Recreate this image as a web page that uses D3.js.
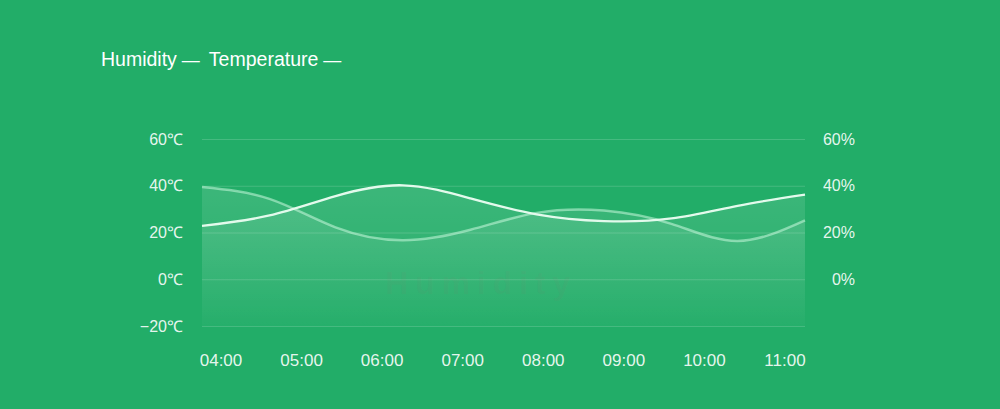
<!DOCTYPE html>
<html>
<head>
<meta charset="utf-8">
<script src="https://cdn.jsdelivr.net/npm/d3@7/dist/d3.min.js"></script>
<style>
  html, body { margin: 0; padding: 0; background: #22ad68; }
  svg { display: block; }
  text { font-family: "Liberation Sans", Arial, sans-serif; }
</style>
</head>
<body>
<svg id="chart" width="1000" height="409"></svg>
<script>
// reading times
const times = ["04:00", "04:47", "05:33", "06:20", "07:07", "07:53", "08:40", "09:27", "10:13", "11:00"];
const temperature = [22.8, 27.3, 35.6, 40.2, 34.6, 27.8, 24.9, 26, 31.4, 36.2];
const humidity = [39.5, 34.4, 22.2, 16.7, 21.2, 28.4, 29.4, 23.7, 16.4, 25.2];
const hourTicks = ["04:00", "05:00", "06:00", "07:00", "08:00", "09:00", "10:00", "11:00"];
const tempTicks = [-20, 0, 20, 40, 60];
const humTicks = [0, 20, 40, 60];
const legendItems = ["Humidity", "Temperature"];

const W = 1000, H = 409;
const plot = { left: 202, right: 805, top: 139, bottom: 326 };
const parse = d3.timeParse("%H:%M");

const svg = d3.select("#chart");
svg.append("rect").attr("width", W).attr("height", H).attr("fill", "#22ad68");

const defs = svg.append("defs");
const grad = defs.append("linearGradient")
  .attr("id", "areaGrad").attr("gradientUnits", "userSpaceOnUse")
  .attr("x1", 0).attr("x2", 0).attr("y1", 185).attr("y2", plot.bottom);
grad.append("stop").attr("offset", 0).attr("stop-color", "#ffffff").attr("stop-opacity", 0.12);
grad.append("stop").attr("offset", 1).attr("stop-color", "#ffffff").attr("stop-opacity", 0.01);

const x = d3.scaleTime().domain([parse(times[0]), parse(times[times.length - 1])]).range([plot.left, plot.right]);
const yT = d3.scaleLinear().domain([-20, 60]).range([plot.bottom, plot.top]);
const yH = d3.scaleLinear().domain([-20, 60]).range([plot.bottom, plot.top]);

// grid
svg.append("g").selectAll("line").data(tempTicks).join("line")
  .attr("x1", plot.left).attr("x2", plot.right)
  .attr("y1", d => yT(d) + 0.5).attr("y2", d => yT(d) + 0.5)
  .attr("stroke", "rgba(255,255,255,0.16)").attr("stroke-width", 1);

// watermark
svg.append("text").text("Humidity")
  .attr("x", 385).attr("y", 294)
  .attr("textLength", 185).attr("lengthAdjust", "spacing")
  .attr("font-size", 32).attr("font-weight", "bold")
  .attr("fill", "rgba(140,100,100,0.065)");

const curve = d3.curveNatural;
const px = (d, i) => x(parse(times[i]));
const areaH = d3.area().x(px).y0(plot.bottom).y1(d => yH(d)).curve(curve);
const areaT = d3.area().x(px).y0(plot.bottom).y1(d => yT(d)).curve(curve);
const lineH = d3.line().x(px).y(d => yH(d)).curve(curve);
const lineT = d3.line().x(px).y(d => yT(d)).curve(curve);

svg.append("path").datum(humidity).attr("d", areaH).attr("fill", "url(#areaGrad)");
svg.append("path").datum(temperature).attr("d", areaT).attr("fill", "url(#areaGrad)");
svg.append("path").datum(humidity).attr("d", lineH)
  .attr("fill", "none").attr("stroke", "rgba(215,255,232,0.5)").attr("stroke-width", 2.5);
svg.append("path").datum(temperature).attr("d", lineT)
  .attr("fill", "none").attr("stroke", "#e3faec").attr("stroke-width", 2.3);

// left axis labels
svg.append("g").selectAll("text").data(tempTicks).join("text")
  .attr("x", 183).attr("y", d => yT(d))
  .attr("dy", "0.35em").attr("text-anchor", "end")
  .attr("font-size", 16).attr("fill", "rgba(255,255,255,0.9)")
  .text(d => (d < 0 ? "\u2212" + Math.abs(d) : d) + "\u2103");

// right axis labels
svg.append("g").selectAll("text").data(humTicks).join("text")
  .attr("x", 855).attr("y", d => yH(d))
  .attr("dy", "0.35em").attr("text-anchor", "end")
  .attr("font-size", 16).attr("fill", "rgba(255,255,255,0.9)")
  .text(d => d + "%");

// x labels: first aligned to plot left, last to plot right, evenly spread
const labelW = 42;
const xl = d3.scalePoint().domain(hourTicks).range([plot.left - 2 + labelW / 2, plot.right + 1 - labelW / 2]);
svg.append("g").selectAll("text").data(hourTicks).join("text")
  .attr("x", d => xl(d)).attr("y", 366)
  .attr("text-anchor", "middle")
  .attr("font-size", 17).attr("fill", "rgba(255,255,255,0.9)")
  .text(d => d);

// legend
const leg = svg.append("text").attr("x", 101).attr("y", 66)
  .attr("font-size", 19.5).attr("fill", "#ffffff");
legendItems.forEach((d, i) => {
  leg.append("tspan").attr("dx", i === 0 ? 0 : 9).attr("font-size", 19.5).text(d);
  leg.append("tspan").attr("dx", 5).attr("font-size", 18).text("\u2014");
});
</script>
</body>
</html>
